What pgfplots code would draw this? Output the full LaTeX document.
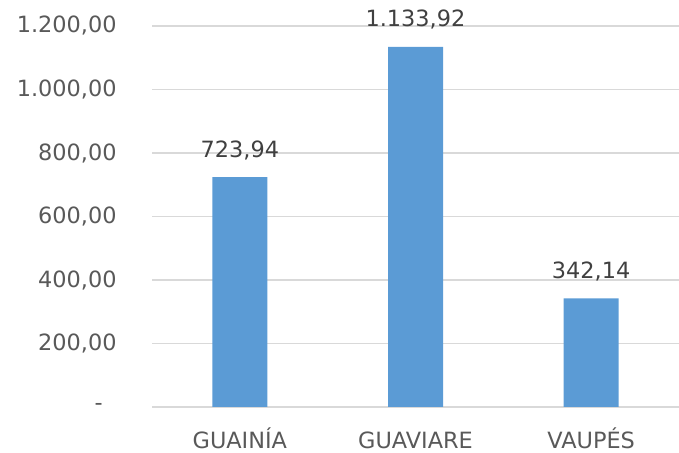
\documentclass[border=0pt]{standalone}
\usepackage{pgfplots}
\pgfplotsset{compat=1.18}
\usepackage{fontspec}
\setmainfont{DejaVu Sans}
\definecolor{barblue}{HTML}{5B9BD5}
\definecolor{txtgray}{HTML}{595959}
\definecolor{gridgray}{HTML}{D9D9D9}
\begin{document}
\begin{tikzpicture}
\begin{axis}[
  at={(0,0)}, anchor=south west,
  scale only axis,
  width=263.5pt, height=190.5pt,
  xmin=-0.5, xmax=2.5,
  ymin=0, ymax=1200,
  axis line style={draw=none},
  axis x line*=bottom,
  xtick={0,1,2},
  xticklabels={GUAINÍA,GUAVIARE,VAUPÉS},
  ytick={0,200,400,600,800,1000,1200},
  yticklabels={{-\kern7pt},{200,00},{400,00},{600,00},{800,00},{1.000,00},{1.200,00}},
  major tick length=0pt,
  ymajorgrids,
  grid style={gridgray, line width=0.6pt},
  tick label style={font=\fontsize{11.2}{13}\selectfont, text=txtgray},
  yticklabel style={anchor=east, inner sep=0pt, xshift=-17.5pt},
  xticklabel style={anchor=base, inner sep=0pt, yshift=-21pt},
  every node near coord/.append style={font=\fontsize{11.2}{13}\selectfont, text=black!75, anchor=south, inner sep=0pt, yshift=8.5pt},
  clip=false,
]
\draw[gridgray, line width=0.6pt] (axis cs:-0.5,0) -- (axis cs:2.5,0);
\addplot[ybar, bar width=27.5pt, fill=barblue, draw=none,
  point meta=explicit symbolic, nodes near coords]
  coordinates {(0,723.94) [723,94] (1,1133.92) [1.133,92] (2,342.14) [342,14]};
\end{axis}
\pgfresetboundingbox
\path[use as bounding box] (-76pt,-23pt) rectangle (263.5pt,203.5pt);
\end{tikzpicture}
\end{document}
